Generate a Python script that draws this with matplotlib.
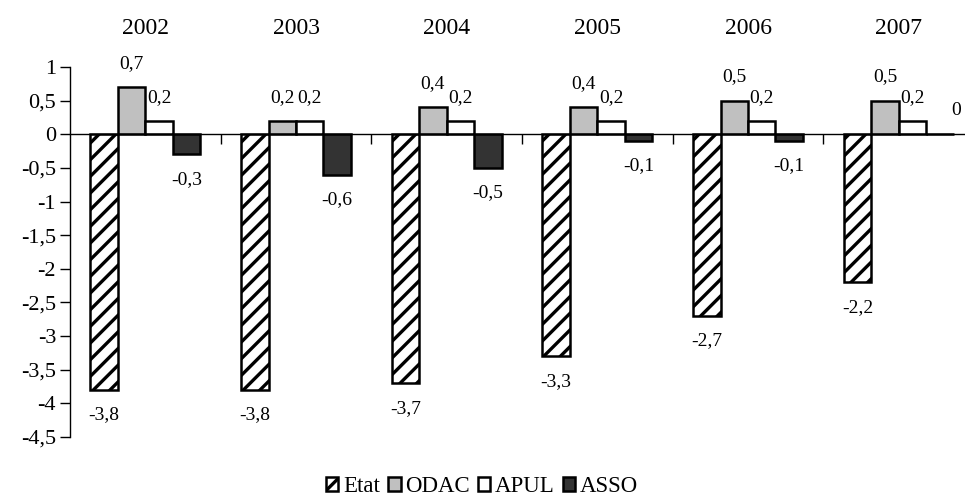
import matplotlib
matplotlib.use("Agg")
import matplotlib.pyplot as plt
from matplotlib.ticker import FixedLocator, FuncFormatter
from matplotlib.patches import Patch
from matplotlib.transforms import blended_transform_factory

plt.rcParams["font.family"] = ["Liberation Serif", "DejaVu Serif"]
plt.rcParams["axes.unicode_minus"] = False
plt.rcParams["hatch.linewidth"] = 2.4

years = ["2002", "2003", "2004", "2005", "2006", "2007"]
series_names = ["Etat", "ODAC", "APUL", "ASSO"]
etat = [-3.8, -3.8, -3.7, -3.3, -2.7, -2.2]
odac = [0.7, 0.2, 0.4, 0.4, 0.5, 0.5]
apul = [0.2, 0.2, 0.2, 0.2, 0.2, 0.2]
asso = [-0.3, -0.6, -0.5, -0.1, -0.1, 0.0]

series = [etat, odac, apul, asso]
faces = ["white", "#c0c0c0", "white", "#333333"]
hatches = ["//", None, None, None]

fig = plt.figure(figsize=(9.65, 5.0), dpi=100)
ax = fig.add_axes([70 / 965, 63 / 500, 904 / 965, 370 / 500])

w = 0.1825
offsets = [-1.5 * w, -0.5 * w, 0.5 * w, 1.5 * w]
xs = list(range(len(years)))

def fmt(v):
    s = f"{v:.1f}".rstrip("0").rstrip(".") if v != 0 else "0"
    return s.replace(".", ",")

for vals, fc, h, off, name in zip(series, faces, hatches, offsets, series_names):
    pos = [x + off for x in xs]
    ax.bar(pos, vals, width=w, facecolor=fc, edgecolor="black",
           linewidth=1.8, hatch=h, label=name, zorder=2)
    for p, v in zip(pos, vals):
        dy = 17 if v >= 0 else -18
        dx = 12 if v == 0 else 0
        ax.annotate(fmt(v), (p, v), xytext=(dx, dy), textcoords="offset points",
                    ha="center", va="center", fontsize=14)

ax.set_xlim(-0.5, len(years) - 0.5)
ax.set_ylim(-4.5, 1.0)

for s in ["top", "right"]:
    ax.spines[s].set_visible(False)
ax.spines["bottom"].set_position(("data", 0))
ax.spines["bottom"].set_zorder(3)
ax.spines["left"].set_linewidth(1.0)
ax.spines["bottom"].set_linewidth(1.0)

ax.yaxis.set_major_locator(FixedLocator([1 - 0.5 * i for i in range(12)]))
ax.yaxis.set_major_formatter(FuncFormatter(lambda v, _: fmt(v)))
ax.tick_params(axis="y", direction="out", length=7, width=1, labelsize=16, pad=3)

ax.xaxis.set_major_locator(FixedLocator([x + 0.5 for x in xs[:-1]]))
ax.tick_params(axis="x", direction="out", length=7, width=1, labelbottom=False)

tr = blended_transform_factory(ax.transData, ax.transAxes)
for x, yr in zip(xs, years):
    ax.text(x, 1.105, yr, transform=tr, ha="center", va="center", fontsize=17)

handles = [Patch(facecolor=fc, edgecolor="black", hatch=h, linewidth=1.8, label=n)
           for fc, h, n in zip(faces, hatches, series_names)]
fig.legend(handles=handles, loc="center", bbox_to_anchor=(482 / 965, 1 - 487 / 500),
           ncol=4, frameon=False, fontsize=16.5, handlelength=0.55, handleheight=0.55,
           handletextpad=0.2, columnspacing=0.35, borderpad=0)

fig.savefig("out.png", dpi=100)
